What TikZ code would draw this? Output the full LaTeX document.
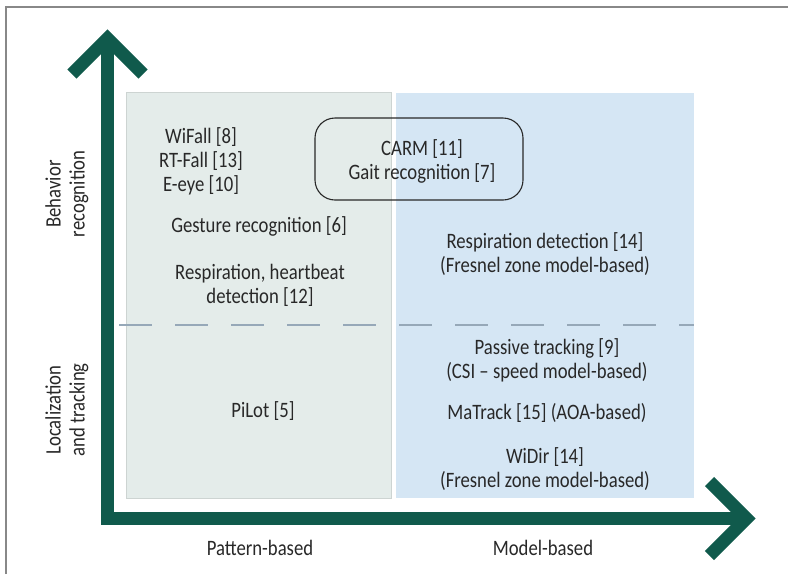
\documentclass[tikz,border=0pt]{standalone}
\usepackage{fontspec}
\setmainfont[FakeStretch=0.85]{Carlito}
\begin{document}
\begin{tikzpicture}[x=1pt,y=-1pt,
  txt/.style={font=\fontsize{22}{24}\selectfont, text=textc, align=center, inner sep=0pt},
  axisline/.style={draw=axisc, line width=13pt, line join=miter, line cap=butt},
  panelgray/.style={fill=panelg, draw=panelgborder, line width=1pt},
  panelblue/.style={fill=panelb, draw=none},
  divider/.style={draw=dashc, line width=1.5pt, dash pattern=on 33pt off 23pt},
  groupbox/.style={draw=textc, line width=1.1pt, rounded corners=20pt}
]
\definecolor{axisc}{RGB}{16,90,76}
\definecolor{textc}{RGB}{40,40,40}
\definecolor{panelg}{RGB}{228,236,234}
\definecolor{panelgborder}{RGB}{205,212,210}
\definecolor{panelb}{RGB}{213,230,244}
\definecolor{dashc}{RGB}{150,168,184}
\definecolor{framec}{RGB}{136,136,136}
\useasboundingbox (0,0) rectangle (788,574);
\fill[white] (0,0) rectangle (788,574);
% frame
\draw[framec, line width=1.5pt] (6,574) -- (6,7) -- (788,7);
% panels
\path[panelgray] (126,92) rectangle (391,498);
\path[panelblue] (396,93) rectangle (694,498);
% divider
\coordinate (dl) at (119,325);
\coordinate (dr) at (694,325);
\draw[divider] (dl) -- (dr);
% group box
\draw[groupbox] (315,118) rectangle (523,200);
% axes
\coordinate (ytip) at (107.5,38.5);
\coordinate (origin) at (107.5,518.5);
\coordinate (xtip) at (746.5,518.5);
\coordinate (yl) at (72,74);
\coordinate (yr) at (143,74);
\coordinate (xu) at (709.5,481.5);
\coordinate (xd) at (709.5,555.5);
\draw[axisline] (ytip) -- (origin) -- (xtip);
\draw[axisline] (yl) -- (ytip) -- (yr);
\draw[axisline] (xu) -- (xtip) -- (xd);
% texts
\node[txt] (fall) at (201,161) {WiFall [8]\\RT-Fall [13]\\E-eye [10]};
\node[txt] (gest) at (259,226) {Gesture recognition [6]};
\node[txt] (resp) at (260,285) {Respiration, heartbeat\\detection [12]};
\node[txt] (pilot) at (263,411) {PiLot [5]};
\node[txt] (carm) at (422,161) {CARM [11]\\Gait recognition [7]};
\node[txt] (respd) at (545,254) {Respiration detection [14]\\(Fresnel zone model-based)};
\node[txt] (pass) at (547,360) {Passive tracking [9]\\(CSI -- speed model-based)};
\node[txt] (matr) at (547,413) {MaTrack [15] (AOA-based)};
\node[txt] (widir) at (545,469) {WiDir [14]\\(Fresnel zone model-based)};
\node[txt] (pat) at (260,548) {Pattern-based};
\node[txt] (mod) at (543,548) {Model-based};
\node[txt, rotate=90] (beh) at (67,194) {Behavior\\recognition};
\node[txt, rotate=90] (loc) at (67,410) {Localization\\and tracking};
\end{tikzpicture}
\end{document}
